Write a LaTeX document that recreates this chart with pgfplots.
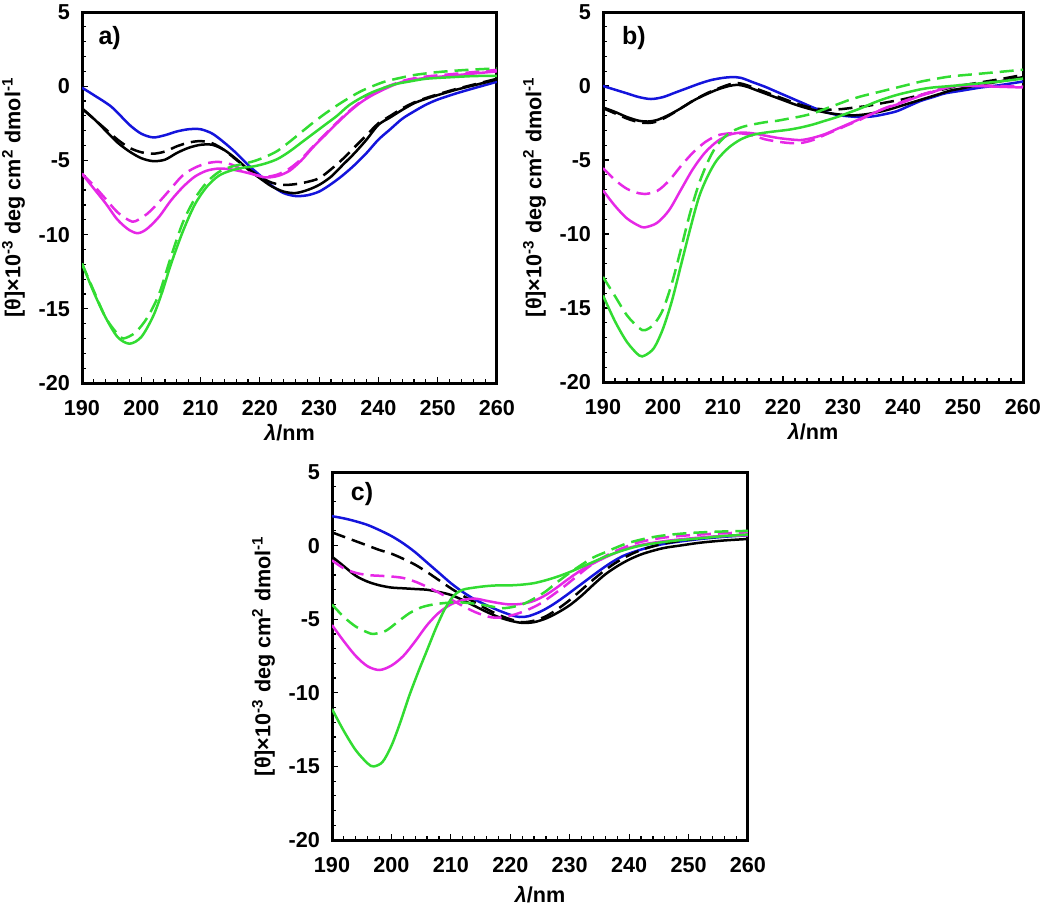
\documentclass[border=0pt]{standalone}
\usepackage{pgfplots}
\pgfplotsset{compat=1.18}
\usepackage{fontspec}
\setmainfont{Liberation Sans}
\definecolor{cblue}{RGB}{20,20,220}
\definecolor{cmag}{RGB}{230,40,230}
\definecolor{cgreen}{RGB}{50,220,50}
\pgfplotsset{
  cdpanel/.style={
    scale only axis, anchor=north west,
    xmin=190, xmax=260, ymin=-20, ymax=5,
    xtick={190,200,210,220,230,240,250,260},
    xticklabels={190,200,210,220,230,240,250,260},
    ytick={-20,-15,-10,-5,0,5},
    yticklabels={-20,-15,-10,-5,0,5},
    minor x tick num=4, minor y tick num=4,
    tick pos=left, tick align=inside,
    major tick length=3bp, minor tick length=1.8bp,
    tick style={black, line width=0.6bp},
    axis line style={line width=1.5bp},
    ticklabel style={font=\fontsize{10.8bp}{13bp}\selectfont\bfseries},
    xticklabel style={yshift=-5bp},
    yticklabel style={xshift=-2.5bp},
    label style={font=\fontsize{10.8bp}{13bp}\selectfont\bfseries},
    xlabel={\textit{λ}/nm},
    xlabel style={yshift=2.5bp},
    ylabel={[θ]×10\textsuperscript{-3} deg cm\textsuperscript{2} dmol\textsuperscript{-1}},
    every axis plot/.append style={line width=1.25bp, smooth, tension=0.5},
  },
  sol/.style={solid},
  dsh/.style={dash pattern=on 7bp off 3.5bp},
}
\begin{document}
\begin{tikzpicture}
\useasboundingbox (0,0) rectangle (525bp,-453.5bp);
% ---------------- panel a
\begin{axis}[cdpanel, at={(41bp,-6bp)}, width=207.5bp, height=185.5bp]
\addplot[cblue,sol] coordinates {(190,-0.1) (192,-0.6) (195,-1.4) (198,-2.6) (200,-3.2) (202,-3.45) (204,-3.3) (206,-3.05) (208,-2.9) (210,-2.9) (212,-3.2) (214,-3.8) (216,-4.5) (218,-5.3) (220,-6.0) (222,-6.7) (224,-7.2) (226,-7.4) (228,-7.35) (230,-7.1) (232,-6.6) (234,-6.0) (236,-5.3) (238,-4.5) (240,-3.6) (242,-2.9) (244,-2.2) (246,-1.7) (248,-1.25) (250,-0.9) (253,-0.5) (256,-0.15) (260,0.3)};
\addplot[black,sol] coordinates {(190,-1.5) (192,-2.2) (194,-3.0) (196,-3.8) (198,-4.4) (200,-4.85) (202,-5.05) (204,-4.95) (206,-4.5) (208,-4.15) (210,-3.95) (212,-3.95) (214,-4.3) (216,-4.9) (218,-5.6) (220,-6.2) (222,-6.75) (224,-7.1) (226,-7.2) (228,-7.0) (230,-6.65) (232,-6.1) (234,-5.3) (236,-4.5) (238,-3.6) (240,-2.6) (242,-2.1) (244,-1.6) (246,-1.15) (248,-0.85) (250,-0.6) (253,-0.25) (256,0.05) (260,0.45)};
\addplot[black,dsh] coordinates {(190,-1.5) (192,-2.2) (194,-2.9) (196,-3.6) (198,-4.15) (200,-4.45) (202,-4.55) (204,-4.4) (206,-4.05) (208,-3.8) (210,-3.7) (212,-3.85) (214,-4.3) (216,-4.95) (218,-5.55) (220,-6.1) (222,-6.5) (224,-6.65) (226,-6.6) (228,-6.45) (230,-6.2) (232,-5.6) (234,-4.9) (236,-4.1) (238,-3.3) (240,-2.5) (242,-2.0) (244,-1.5) (246,-1.1) (248,-0.8) (250,-0.55) (253,-0.2) (256,0.1) (260,0.5)};
\addplot[cmag,sol] coordinates {(190,-5.9) (192,-6.9) (194,-7.9) (196,-9.0) (198,-9.7) (199.5,-9.9) (201,-9.6) (203,-8.8) (205,-7.7) (207,-6.8) (209,-6.1) (211,-5.7) (213,-5.55) (215,-5.6) (217,-5.75) (219,-5.95) (221,-6.15) (223,-6.05) (225,-5.7) (227,-5.0) (229,-4.1) (231,-3.3) (233,-2.5) (235,-1.75) (237,-1.1) (239,-0.6) (241,-0.2) (243,0.15) (245,0.4) (248,0.55) (252,0.7) (256,0.85) (260,1.0)};
\addplot[cmag,dsh] coordinates {(190,-5.9) (192,-6.7) (194,-7.6) (196,-8.5) (198,-9.05) (199,-9.1) (201,-8.6) (203,-7.8) (205,-6.9) (207,-6.0) (209,-5.5) (211,-5.2) (213,-5.1) (215,-5.25) (217,-5.6) (219,-5.95) (221,-6.1) (223,-5.95) (225,-5.55) (227,-4.9) (229,-4.05) (231,-3.25) (233,-2.45) (235,-1.7) (237,-1.05) (239,-0.5) (241,-0.1) (243,0.2) (245,0.45) (248,0.65) (252,0.8) (256,0.95) (260,1.1)};
\addplot[cgreen,sol] coordinates {(190,-11.95) (192,-13.9) (194,-15.6) (196,-16.9) (198,-17.35) (200,-16.9) (202,-15.5) (203.5,-13.9) (205,-12.0) (207,-9.8) (209,-8.0) (211,-6.8) (213,-6.05) (215,-5.7) (217,-5.5) (219,-5.4) (221,-5.2) (223,-4.9) (225,-4.4) (227,-3.8) (229,-3.2) (231,-2.6) (233,-2.0) (235,-1.3) (237,-0.8) (239,-0.4) (241,-0.1) (243,0.15) (245,0.3) (248,0.5) (252,0.6) (256,0.68) (260,0.7)};
\addplot[cgreen,dsh] coordinates {(190,-11.95) (192,-13.8) (194,-15.6) (196,-16.7) (197,-17.0) (199,-16.6) (201,-15.6) (203,-14.0) (205,-11.5) (207,-9.2) (209,-7.6) (211,-6.5) (213,-5.8) (215,-5.45) (217,-5.25) (219,-5.05) (221,-4.75) (223,-4.35) (225,-3.75) (227,-3.1) (229,-2.45) (231,-1.85) (233,-1.3) (235,-0.8) (237,-0.35) (239,0.0) (241,0.3) (243,0.5) (246,0.75) (250,0.95) (255,1.1) (260,1.2)};
\node[anchor=west, font=\fontsize{12.5bp}{14bp}\selectfont\bfseries] at (axis cs:191.6,3.25) {a)};
\end{axis}
% ---------------- panel b
\begin{axis}[cdpanel, at={(301.5bp,-6bp)}, width=210bp, height=185bp]
\addplot[cblue,sol] coordinates {(190,0) (192,-0.25) (194,-0.5) (196,-0.75) (198,-0.88) (200,-0.75) (202,-0.45) (204,-0.15) (206,0.15) (208,0.4) (210,0.55) (211.5,0.6) (213,0.55) (215,0.25) (217,-0.05) (219,-0.4) (221,-0.75) (223,-1.1) (225,-1.45) (227,-1.75) (229,-1.95) (231,-2.05) (233,-2.1) (235,-2.05) (237,-1.9) (239,-1.7) (241,-1.35) (243,-1.0) (245,-0.75) (247,-0.5) (250,-0.3) (253,-0.1) (256,0.05) (260,0.3)};
\addplot[black,sol] coordinates {(190,-1.45) (192,-1.75) (194,-2.1) (196,-2.35) (197.5,-2.4) (199,-2.3) (201,-1.95) (203,-1.5) (205,-1.0) (207,-0.6) (209,-0.25) (211,0.0) (212.5,0.08) (214,-0.05) (216,-0.35) (218,-0.65) (220,-0.95) (222,-1.25) (224,-1.5) (226,-1.7) (228,-1.85) (230,-1.95) (232,-1.98) (234,-1.9) (236,-1.75) (238,-1.55) (240,-1.3) (242,-1.05) (244,-0.8) (246,-0.55) (248,-0.3) (250,-0.15) (253,0.1) (256,0.3) (260,0.6)};
\addplot[black,dsh] coordinates {(190,-1.5) (192,-1.85) (194,-2.2) (196,-2.45) (197.5,-2.5) (199,-2.4) (201,-2.0) (203,-1.5) (205,-1.0) (207,-0.55) (209,-0.2) (211,0.1) (212.5,0.2) (214,0.05) (216,-0.25) (218,-0.55) (220,-0.85) (222,-1.15) (224,-1.4) (226,-1.55) (228,-1.6) (230,-1.55) (232,-1.45) (234,-1.35) (236,-1.2) (238,-1.05) (240,-0.9) (242,-0.7) (244,-0.5) (246,-0.3) (248,-0.1) (250,0.05) (253,0.25) (256,0.45) (260,0.75)};
\addplot[cmag,sol] coordinates {(190,-7.05) (192,-8.1) (194,-8.95) (196,-9.45) (197,-9.55) (199,-9.25) (201,-8.4) (203,-7.0) (205,-5.6) (207,-4.5) (209,-3.75) (211,-3.3) (213,-3.15) (215,-3.2) (217,-3.35) (219,-3.5) (221,-3.6) (223,-3.65) (225,-3.5) (227,-3.25) (229,-2.9) (231,-2.55) (233,-2.2) (235,-1.85) (237,-1.5) (239,-1.25) (241,-0.95) (243,-0.65) (245,-0.4) (247,-0.15) (249,0.0) (252,0.0) (256,-0.05) (260,-0.1)};
\addplot[cmag,dsh] coordinates {(190,-5.55) (192,-6.35) (194,-6.95) (196,-7.25) (197,-7.3) (199,-7.1) (201,-6.4) (203,-5.4) (205,-4.5) (207,-3.8) (209,-3.35) (211,-3.2) (213,-3.2) (215,-3.35) (217,-3.6) (219,-3.75) (221,-3.85) (223,-3.85) (225,-3.65) (227,-3.3) (229,-2.95) (231,-2.6) (233,-2.25) (235,-1.85) (237,-1.5) (239,-1.2) (241,-0.9) (243,-0.6) (245,-0.35) (247,-0.1) (249,0.05) (252,0.05) (256,0.0) (260,-0.05)};
\addplot[cgreen,sol] coordinates {(190,-14.15) (192,-15.9) (194,-17.3) (196,-18.2) (197,-18.2) (198.5,-17.7) (200,-16.4) (201.5,-14.5) (203,-12.1) (204.5,-9.7) (206,-7.5) (207.5,-6.05) (209,-5.0) (211,-4.15) (213,-3.6) (215,-3.3) (217,-3.15) (219,-3.05) (221,-2.95) (223,-2.8) (225,-2.6) (227,-2.35) (229,-2.1) (231,-1.8) (233,-1.5) (235,-1.15) (237,-0.85) (239,-0.6) (241,-0.4) (243,-0.22) (245,-0.1) (248,0.0) (252,0.15) (256,0.3) (260,0.5)};
\addplot[cgreen,dsh] coordinates {(190,-12.9) (192,-14.2) (194,-15.5) (196,-16.35) (197,-16.5) (198.5,-16.1) (200,-15.1) (201.5,-13.3) (203,-11.0) (204.5,-8.6) (206,-6.6) (207.5,-5.1) (209,-4.0) (211,-3.2) (213,-2.8) (215,-2.6) (217,-2.45) (219,-2.35) (221,-2.2) (223,-2.05) (225,-1.85) (227,-1.55) (229,-1.25) (231,-0.95) (233,-0.7) (235,-0.5) (237,-0.3) (239,-0.1) (241,0.1) (243,0.3) (245,0.45) (248,0.65) (252,0.8) (256,0.95) (260,1.1)};
\node[anchor=west, font=\fontsize{12.5bp}{14bp}\selectfont\bfseries] at (axis cs:192,3.25) {b)};
\end{axis}
% ---------------- panel c
\begin{axis}[cdpanel, at={(166bp,-236bp)}, width=208bp, height=184bp,
  xlabel style={yshift=-2.5bp}]
\addplot[cblue,sol] coordinates {(190,2.0) (192,1.85) (194,1.65) (196,1.4) (198,1.05) (200,0.65) (202,0.15) (204,-0.45) (206,-1.15) (208,-1.85) (210,-2.55) (212,-3.15) (214,-3.65) (216,-4.05) (218,-4.4) (220,-4.7) (221.5,-4.85) (223,-4.8) (225,-4.5) (227,-4.05) (229,-3.5) (231,-2.9) (233,-2.3) (235,-1.7) (237,-1.15) (239,-0.7) (241,-0.4) (243,-0.15) (245,0.05) (248,0.25) (252,0.45) (256,0.6) (260,0.7)};
\addplot[black,dsh] coordinates {(190,0.9) (192,0.6) (194,0.3) (196,0.0) (198,-0.3) (200,-0.55) (202,-0.9) (204,-1.3) (206,-1.8) (208,-2.35) (210,-2.9) (212,-3.4) (214,-3.85) (216,-4.3) (218,-4.7) (220,-5.0) (222,-5.2) (224,-5.1) (226,-4.8) (228,-4.3) (230,-3.7) (232,-3.0) (234,-2.3) (236,-1.65) (238,-1.1) (240,-0.65) (242,-0.3) (244,-0.05) (246,0.15) (249,0.35) (252,0.5) (256,0.65) (260,0.75)};
\addplot[black,sol] coordinates {(190,-0.75) (192,-1.4) (194,-2.05) (196,-2.45) (198,-2.7) (200,-2.85) (202,-2.9) (204,-2.95) (206,-3.0) (208,-3.15) (210,-3.35) (212,-3.7) (214,-4.1) (216,-4.5) (218,-4.85) (220,-5.1) (222,-5.25) (224,-5.2) (226,-4.95) (228,-4.55) (230,-4.05) (232,-3.4) (234,-2.65) (236,-1.95) (238,-1.4) (240,-0.95) (242,-0.6) (244,-0.35) (246,-0.15) (248.5,0.0) (252,0.2) (256,0.35) (260,0.45)};
\addplot[cmag,sol] coordinates {(190,-5.4) (192,-6.5) (194,-7.5) (196,-8.2) (198,-8.45) (200,-8.15) (202,-7.5) (204,-6.5) (206,-5.4) (208,-4.55) (210,-4.0) (212,-3.7) (214,-3.6) (216,-3.75) (218,-3.9) (220,-4.0) (222,-3.95) (224,-3.75) (226,-3.35) (228,-2.8) (230,-2.2) (232,-1.65) (234,-1.2) (236,-0.8) (238,-0.45) (240,-0.15) (242,0.05) (245,0.25) (248,0.4) (252,0.55) (256,0.65) (260,0.7)};
\addplot[cmag,dsh] coordinates {(190,-1.0) (192,-1.55) (194,-1.85) (196,-2.0) (198,-2.05) (200,-2.1) (202,-2.2) (204,-2.45) (206,-2.8) (208,-3.2) (210,-3.65) (212,-4.1) (214,-4.5) (216,-4.8) (217.5,-4.9) (219,-4.85) (221,-4.65) (223,-4.35) (225,-3.95) (227,-3.4) (229,-2.8) (231,-2.15) (233,-1.5) (235,-0.95) (237,-0.5) (239,-0.15) (241,0.15) (243,0.35) (246,0.55) (250,0.7) (255,0.82) (260,0.9)};
\addplot[cgreen,sol] coordinates {(190,-11.1) (192,-12.6) (194,-13.9) (196,-14.8) (197,-15.0) (198.5,-14.7) (200,-13.6) (201.5,-12.0) (203,-10.2) (204.5,-8.6) (206,-7.1) (207.5,-5.6) (209,-4.3) (210.5,-3.4) (212,-3.0) (214,-2.85) (216,-2.75) (218,-2.7) (220,-2.7) (222,-2.65) (224,-2.55) (226,-2.35) (228,-2.1) (230,-1.8) (232,-1.45) (234,-1.1) (236,-0.75) (238,-0.45) (240,-0.2) (242,0.0) (245,0.2) (248,0.35) (252,0.5) (256,0.65) (260,0.75)};
\addplot[cgreen,dsh] coordinates {(190,-4.0) (192,-4.85) (194,-5.5) (196,-5.9) (197,-6.0) (199,-5.8) (201,-5.2) (203,-4.6) (205,-4.2) (207,-4.0) (209,-3.9) (211,-3.85) (213,-3.9) (215,-4.0) (217,-4.15) (218.5,-4.25) (220,-4.2) (222,-4.0) (224,-3.6) (226,-3.1) (228,-2.45) (230,-1.85) (232,-1.3) (234,-0.8) (236,-0.45) (238,-0.1) (240,0.2) (243,0.5) (246,0.7) (250,0.85) (255,0.95) (260,1.0)};
\node[anchor=west, font=\fontsize{12.5bp}{14bp}\selectfont\bfseries] at (axis cs:192,3.5) {c)};
\end{axis}
\end{tikzpicture}
\end{document}
